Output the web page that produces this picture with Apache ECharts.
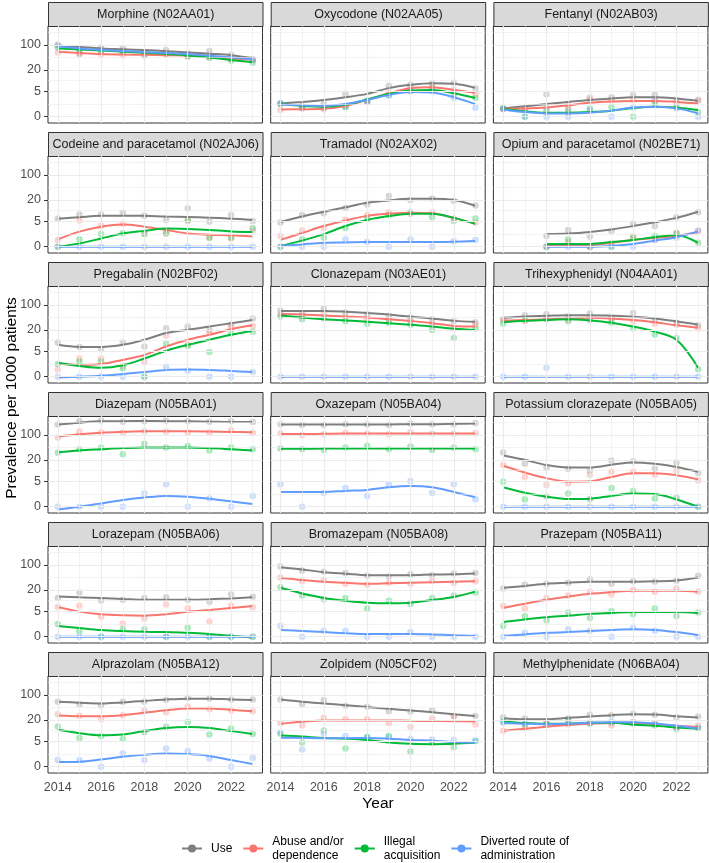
<!DOCTYPE html>
<html lang="en">
<head>
<meta charset="UTF-8">
<title>Prevalence per 1000 patients</title>
<script src="https://cdn.jsdelivr.net/npm/echarts@6/dist/echarts.min.js"></script>
<style>
  html, body { margin: 0; padding: 0; background: #fff; }
  #chart { width: 709px; height: 863px; }
</style>
</head>
<body>
<div id="chart"></div>
<script>
const years = [2014, 2015, 2016, 2017, 2018, 2019, 2020, 2021, 2022, 2023];
const measures = ['Use', 'Abuse and/or dependence', 'Illegal acquisition', 'Diverted route of administration'];
const legendLabels = ['Use', 'Abuse and/or\ndependence', 'Illegal\nacquisition', 'Diverted route of\nadministration'];
const colours = ['#7F7F7F', '#F8766D', '#00BA38', '#619CFF'];
const yBreaks = [0, 5, 20, 100];
const xBreaks = [2014, 2016, 2018, 2020, 2022];
const xMinor = [2015, 2017, 2019, 2021, 2023];
const panelTitles = [
  'Morphine (N02AA01)', 'Oxycodone (N02AA05)', 'Fentanyl (N02AB03)',
  'Codeine and paracetamol (N02AJ06)', 'Tramadol (N02AX02)', 'Opium and paracetamol (N02BE71)',
  'Pregabalin (N02BF02)', 'Clonazepam (N03AE01)', 'Trihexyphenidyl (N04AA01)',
  'Diazepam (N05BA01)', 'Oxazepam (N05BA04)', 'Potassium clorazepate (N05BA05)',
  'Lorazepam (N05BA06)', 'Bromazepam (N05BA08)', 'Prazepam (N05BA11)',
  'Alprazolam (N05BA12)', 'Zolpidem (N05CF02)', 'Methylphenidate (N06BA04)'
];

// smoothed curves and yearly points, rows in the order of `measures`
const morphineFit = [
  [96, 88, 80, 76, 72, 67, 62, 57, 52, 43],
  [65, 60, 56, 54, 53, 52, 51, 47, 42, 40],
  [80, 75, 70, 65, 61, 56, 51, 45, 38, 33],
  [90, 80, 73, 68, 64, 60, 56, 50, 45, 40]
];
const morphinePts = [
  [100, 58, 85, 82, 53, 72, 58, 68, 53, 40],
  [62, 55, 55, 52, 50, 55, 48, 45, 40, 38],
  [85, 68, 66, 64, 58, 58, 48, 44, 37, 32],
  [100, 80, 75, 70, 60, 60, 55, 50, 44, 38]
];
const oxycodoneFit = [
  [1.9, 2.2, 2.6, 3.2, 4.1, 6.1, 7.6, 8.5, 8.2, 6.2],
  [0.97, 1.0, 1.07, 1.5, 2.6, 4.3, 6.1, 6.5, 5.4, 4.4],
  [1.8, 1.5, 1.38, 1.7, 2.7, 4.1, 5.2, 5.4, 4.3, 3.0],
  [1.75, 1.6, 1.5, 1.8, 2.6, 3.8, 4.7, 4.5, 3.2, 1.8]
];
const oxycodonePts = [
  [1.9, 1.5, 1.8, 4.1, 2.3, 7.1, 7.6, 8.5, 8.7, 6.0],
  [0.9, 1.1, 1.0, 1.4, 2.2, 4.5, 6.5, 7.0, 5.5, 4.0],
  [1.8, 1.2, 1.2, 1.3, 2.5, 3.8, 5.0, 6.0, 4.0, 3.0],
  [2.0, 1.2, 1.3, 1.4, 2.4, 3.6, 5.0, 5.0, 3.0, 1.2]
];
const fentanylFit = [
  [1.12, 1.45, 1.8, 2.2, 2.6, 2.9, 3.2, 3.2, 2.9, 2.4],
  [1.07, 1.1, 1.25, 1.6, 2.05, 2.3, 2.4, 2.4, 2.2, 1.9],
  [1.07, 0.7, 0.52, 0.52, 0.6, 0.79, 1.17, 1.38, 1.25, 0.88],
  [0.97, 0.6, 0.43, 0.43, 0.52, 0.8, 1.25, 1.38, 1.12, 0.43]
];
const fentanylPts = [
  [1.1, 1.0, 4.0, 1.1, 2.7, 3.2, 3.8, 3.8, 2.6, 2.6],
  [1.0, 1.0, 1.3, 1.5, 3.2, 2.5, 2.6, 2.4, 2.0, 2.5],
  [1.1, 0, 0.8, 0.6, 1.1, 1.3, 0, 2.0, 1.3, 0.6],
  [1.1, 0, 0, 0, 0.9, 0, 1.2, 2.6, 1.1, 0]
];
const codeineFit = [
  [5.9, 6.5, 7.1, 7.2, 7.1, 6.8, 6.6, 6.3, 5.9, 5.4],
  [0.97, 2.26, 3.35, 3.9, 3.35, 2.6, 1.9, 1.7, 1.6, 1.4],
  [0, 0.43, 1.1, 1.9, 2.4, 2.9, 2.8, 2.6, 2.3, 2.2],
  [0, 0, 0, 0, 0, 0, 0, 0, 0, 0]
];
const codeinePts = [
  [5.9, 7.8, 7.8, 8.7, 7.1, 5.4, 11.6, 4.8, 7.5, 5.0],
  [0.9, 5.2, 3.6, 4.1, 1.9, 1.9, 5.2, 1.2, 1.1, 2.5],
  [0, 1.0, 1.8, 1.95, 1.8, 1.95, 5.2, 1.2, 1.2, 3.0],
  [0, 0, 0, 0, 0, 0, 0, 0, 0, 0]
];
const tramadolFit = [
  [4.7, 6.8, 9.3, 12.5, 16.7, 19.5, 21.6, 21.6, 20, 13.8],
  [0.9, 2.0, 3.5, 5.2, 7.1, 8.2, 8.8, 8.5, 6.2, 4.1],
  [0.1, 0.8, 1.8, 3.5, 5.4, 7.0, 8.2, 8.2, 6.2, 4.1],
  [0.1, 0.3, 0.5, 0.55, 0.6, 0.6, 0.6, 0.6, 0.65, 0.75]
];
const tramadolPts = [
  [4.5, 7.5, 8.5, 12, 15, 26, 20, 22, 19, 14],
  [1.5, 2.5, 3.0, 5.5, 7.5, 9, 8, 9, 6, 4.5],
  [0, 1, 1.2, 3, 6, 7.5, 9, 6.5, 5, 6],
  [0, 0, 0, 1, 0.6, 0, 1, 0, 0.7, 0.9]
];
const opiumFit = [
  [null, null, 1.8, 1.9, 2.2, 2.7, 3.5, 4.6, 6.2, 9.3],
  [null, null, 0.1, 0.15, 0.2, 0.5, 0.9, 1.2, 1.5, 2.2],
  [null, null, 0.35, 0.35, 0.35, 0.6, 0.9, 1.3, 1.6, 0.5],
  [null, null, 0, 0, 0, 0.1, 0.35, 0.8, 1.3, 2.3]
];
const opiumPts = [
  [null, null, 1.5, 2.6, 1.4, 2.4, 4.2, 3.5, 6.5, 9.0],
  [null, null, 0, 0.6, 0, 0.4, 1.4, 0.9, 2.0, 2.4],
  [null, null, 0, 1.0, 0, 0, 1.3, 1.5, 2.0, 0.5],
  [null, null, 0, 0, 0, 0, 0, 0.9, 1.2, 2.5]
];
const pregabalinFit = [
  [7.6, 6.6, 6.6, 7.6, 10.6, 16.4, 20.3, 25, 31, 38],
  [1.9, 1.65, 1.8, 2.6, 3.8, 6.8, 10.6, 14.7, 21, 27],
  [2.05, 1.5, 1.2, 1.6, 2.9, 5.1, 7.6, 10.6, 14.7, 19],
  [-0.1, 0, 0.13, 0.35, 0.6, 0.9, 0.97, 0.9, 0.75, 0.6]
];
const pregabalinPts = [
  [8.9, 6.6, 5.7, 8.9, 6.8, 22.5, 25, 20, 28, 42],
  [0.97, 2.9, 2.9, 1.5, 2.2, 13.8, 7.6, 17, 24, 26],
  [1.8, 2.26, 2.26, 1.1, 0, 8.2, 7, 4.7, 16, 18],
  [0, 0, 0, 0, 0, 1.38, 0.8, 0, 0, 0.6]
];
const clonazepamFit = [
  [68, 68, 68, 65, 60, 54, 47, 42, 36, 34],
  [56, 54, 51, 48, 45, 40, 36, 31, 26, 25],
  [51, 45, 40, 37, 34, 31, 28, 25, 21.6, 20],
  [0, 0, 0, 0, 0, 0, 0, 0, 0, 0]
];
const clonazepamPts = [
  [70, 60, 80, 62, 55, 50, 45, 40, 35, 33],
  [55, 50, 60, 45, 40, 38, 36, 30, 22, 28],
  [48, 40, 42, 35, 30, 32, 28, 20, 12, 22],
  [0, 0, 0, 0, 0, 0, 0, 0, 0, 0]
];
const trihexyFit = [
  [44, 48, 50, 52, 52, 50, 47, 42, 35, 28],
  [36, 38, 40, 42, 44, 42, 38, 33, 27, 23],
  [33, 36, 38, 40, 37, 32, 25, 18, 10.6, 1.2],
  [0, 0, 0, 0, 0, 0, 0, 0, 0, 0]
];
const trihexyPts = [
  [40, 52, 55, 48, 58, 45, 60, 38, 32, 27],
  [38, 35, 42, 40, 45, 40, 35, 30, 28, 22],
  [30, 38, 40, 35, 38, 32, 22, 15, 12, 1],
  [0, 0, 1.2, 0, 0, 0, 0, 0, 0, 0]
];
const diazepamFit = [
  [196, 220, 240, 243, 245, 243, 240, 235, 230, 230],
  [90, 105, 116, 122, 126, 126, 126, 124, 121, 120],
  [33, 37, 40, 43, 45, 45, 45, 43, 40, 37],
  [-0.35, 0, 0.43, 0.88, 1.25, 1.5, 1.38, 1.07, 0.7, 0.35]
];
const diazepamPts = [
  [196, 245, 255, 235, 240, 255, 240, 235, 245, 230],
  [85, 125, 120, 115, 126, 125, 120, 118, 135, 115],
  [32, 40, 45, 29, 57, 45, 49, 37, 45, 40],
  [0, 0, 0, 0, 1.9, 4.0, 0, 1.1, 0, 1.5]
];
const oxazepamFit = [
  [196, 196, 196, 196, 196, 196, 200, 200, 205, 210],
  [106, 106, 108, 110, 110, 110, 110, 110, 110, 110],
  [41, 41, 42, 42, 42, 42, 42, 42, 42, 42],
  [2.2, 2.2, 2.2, 2.4, 2.6, 3.2, 3.5, 3.2, 2.2, 1.3]
];
const oxazepamPts = [
  [200, 190, 190, 200, 195, 190, 210, 200, 200, 215],
  [110, 100, 105, 115, 110, 105, 120, 110, 108, 112],
  [42, 40, 38, 45, 50, 40, 48, 38, 45, 40],
  [4, 0, 2, 3, 1.5, 4, 5, 2, 4, 1]
];
const clorazepateFit = [
  [26.8, 20.3, 14.4, 12.4, 12.4, 14.7, 17.1, 15.6, 12.7, 9.3],
  [13.8, 8.9, 6.1, 4.8, 4.9, 6.6, 8.5, 8.5, 7.4, 5.6],
  [3.2, 2.05, 1.38, 1.02, 1.07, 1.5, 1.9, 1.8, 0.97, 0],
  [0, 0, 0, 0, 0, 0, 0, 0, 0, 0]
];
const clorazepatePts = [
  [32.5, 15.6, 12.4, 11.4, 10.2, 19.5, 18.5, 11.4, 17.1, 8.5],
  [14.4, 6.6, 3.8, 4.2, 7.6, 9.3, 9.3, 7.6, 10, 5.2],
  [4.8, 0.97, 1.4, 1.9, 1.0, 3.0, 2.4, 1.1, 1.2, 0],
  [0, 0, 0, 0, 0, 0, 0, 0, 0, 0]
];
const lorazepamFit = [
  [13.2, 12.5, 11.9, 11.2, 10.6, 10.6, 10.6, 11, 11.6, 12.5],
  [6.6, 4.8, 4.0, 3.7, 3.6, 4.0, 4.8, 5.4, 6.2, 7.0],
  [1.5, 1.17, 0.88, 0.74, 0.65, 0.6, 0.52, 0.35, 0.1, -0.1],
  [0, 0, 0, 0, 0, 0, 0, 0, 0, 0]
];
const lorazepamPts = [
  [12, 17, 10.2, 10.6, 12, 12.5, 10.6, 9.3, 15, 13],
  [6.6, 7.1, 3.35, 1.9, 2.9, 7.8, 6.1, 2.3, 7.1, 6.5],
  [1.8, 0.7, 0, 1.0, 1.0, 0, 1.2, 0, 0, 0],
  [0, 0, 0, 0, 0, 0, 0, 0, 0, 0]
];
const bromazepamFit = [
  [87, 75, 63, 57, 52, 52, 52, 54, 55, 58],
  [44, 38, 34, 32, 30, 31, 32, 33, 34, 35],
  [23, 16, 12, 10, 8.8, 8.4, 8.8, 10.5, 12.8, 18],
  [0.9, 0.75, 0.6, 0.45, 0.35, 0.35, 0.35, 0.3, 0.2, 0.1]
];
const bromazepamPts = [
  [90, 70, 65, 60, 50, 48, 55, 52, 58, 60],
  [45, 35, 38, 30, 28, 32, 30, 36, 32, 35],
  [24, 14, 11, 12, 6, 10, 8, 12, 14, 17],
  [1.5, 0, 0.8, 0.8, 0, 0, 0.6, 0, 0, 0]
];
const prazepamFit = [
  [23, 26, 30, 32, 34, 34, 34, 35, 37, 45],
  [6.2, 8.2, 10.6, 13, 15.6, 17.5, 19, 19, 19, 18],
  [2.2, 2.7, 3.2, 3.6, 4.1, 4.4, 4.7, 4.7, 4.7, 4.4],
  [0.1, 0.3, 0.5, 0.6, 0.75, 0.9, 1.0, 0.9, 0.6, 0.2]
];
const prazepamPts = [
  [22, 28, 30, 32, 40, 30, 35, 34, 36, 50],
  [7, 6, 12, 14, 18, 15, 20, 18, 22, 18],
  [1.5, 3.5, 2.5, 4.5, 3, 5, 4, 6, 3.5, 4.5],
  [0, 0.5, 0, 1, 0.8, 0, 1.2, 0.8, 0, 0]
];
const alprazolamFit = [
  [65, 61, 58, 62, 68, 75, 79, 79, 75, 72],
  [26.8, 25.6, 25.6, 27.3, 31.8, 37.5, 42, 42, 38.5, 35],
  [10.6, 8.5, 7.4, 7.8, 9.8, 11.9, 12.7, 11.9, 9.8, 8.1],
  [0.6, 0.65, 0.97, 1.38, 1.7, 1.9, 1.8, 1.5, 0.88, 0.35]
];
const alprazolamPts = [
  [65, 55, 51, 65, 65, 72, 84, 80, 75, 75],
  [29, 26.5, 21, 27, 37, 33, 47.6, 40, 37, 35],
  [13.2, 6.2, 7, 5.8, 9, 13, 17.7, 7.8, 11.6, 8],
  [0.88, 0.88, 0, 1.9, 0.88, 2.9, 2.4, 1.1, 0, 1.17]
];
const zolpidemFit = [
  [75, 65, 58, 52, 46, 41, 37, 33, 29, 26],
  [15.6, 17.8, 19.5, 19.5, 19.5, 19.5, 19, 18.8, 18.5, 18.3],
  [7.3, 6.8, 6.2, 5.9, 5.4, 4.5, 4.1, 4.0, 4.1, 4.5],
  [6.3, 6.2, 6.1, 6.1, 6.2, 5.9, 5.4, 5.1, 4.7, 4.5]
];
const zolpidemPts = [
  [75, 56, 72, 50, 47, 35, 34, 37, 26, 26],
  [16.4, 14, 23, 21.3, 21.3, 16.4, 12.7, 22, 26, 15],
  [8.2, 4.5, 10.2, 2.9, 6.6, 7.1, 2.26, 4.5, 3.2, 5],
  [8.9, 2.7, 8.2, 7, 6.6, 6.6, 5.8, 5.6, 5.5, 5.2]
];
const methylFit = [
  [22.5, 21, 21, 23, 25, 27.3, 29, 28.5, 25.6, 23.5],
  [10, 11.4, 13, 14.4, 15.6, 16.4, 16.4, 15.3, 13.8, 12.7],
  [18.3, 16.4, 15.6, 15.8, 16.7, 16.7, 14.7, 13.8, 12.4, 11.3],
  [16.4, 15.8, 15.3, 15.8, 16.7, 17.4, 17.2, 16, 13.8, 11.6]
];
const methylPts = [
  [24, 22, 19, 22, 28, 27, 30, 28, 24, 25],
  [10, 12, 18, 15, 17, 14, 18, 16, 12, 14],
  [18, 15, 15, 20, 16, 17, 16, 14, 11, 12],
  [17, 16, 15, 17, 16, 18, 17, 16, 13, 12]
];

const panelFits = [morphineFit, oxycodoneFit, fentanylFit, codeineFit, tramadolFit, opiumFit,
  pregabalinFit, clonazepamFit, trihexyFit, diazepamFit, oxazepamFit, clorazepateFit,
  lorazepamFit, bromazepamFit, prazepamFit, alprazolamFit, zolpidemFit, methylFit];
const panelPts = [morphinePts, oxycodonePts, fentanylPts, codeinePts, tramadolPts, opiumPts,
  pregabalinPts, clonazepamPts, trihexyPts, diazepamPts, oxazepamPts, clorazepatePts,
  lorazepamPts, bromazepamPts, prazepamPts, alprazolamPts, zolpidemPts, methylPts];

// pseudo-log axis (sigma = 1): y' = asinh(y / 2)
const tr = v => (v == null ? null : Math.asinh(v / 2));
const yMajor = yBreaks.map(tr);
const yMinor = yMajor.slice(1).map((b, i) => (b + yMajor[i]) / 2).concat([yMajor[3] + (yMajor[3] - yMajor[2]) / 2]);

const colLeft = [48, 270.7, 493.4];
const panelW = 214.5, panelH = 97;
const rowTop = r => 26 + 130 * r;
const font = '"Liberation Sans", Arial, sans-serif';

const grids = [], xAxes = [], yAxes = [], series = [], graphics = [];

panelTitles.forEach((title, i) => {
  const r = Math.floor(i / 3), c = i % 3;
  const top = rowTop(r), left = colLeft[c];
  grids.push({ left, top, width: panelW, height: panelH, show: true,
    backgroundColor: '#fff', borderColor: '#333', borderWidth: 1 });
  xAxes.push({
    type: 'value', gridIndex: i, min: 2013.55, max: 2023.45,
    axisLine: { show: false }, splitLine: { show: false },
    axisTick: { show: r === 5, length: 4, lineStyle: { color: '#333' }, customValues: xBreaks },
    axisLabel: { show: r === 5, customValues: xBreaks, fontSize: 12.5, color: '#4D4D4D', fontFamily: font, margin: 8,
      formatter: v => String(Math.round(v)) }
  });
  yAxes.push({
    type: 'value', gridIndex: i, min: -0.404, max: 5.823,
    axisLine: { show: false }, splitLine: { show: false },
    axisTick: { show: c === 0, length: 4, lineStyle: { color: '#333' }, customValues: yMajor },
    axisLabel: { show: c === 0, customValues: yMajor, fontSize: 12.5, color: '#4D4D4D', fontFamily: font, margin: 7,
      formatter: v => { const k = yMajor.findIndex(b => Math.abs(b - v) < 1e-6); return k < 0 ? '' : String(yBreaks[k]); } }
  });
  // panel grid lines
  const gl = (w) => ({ color: '#EBEBEB', width: w, type: 'solid' });
  series.push({
    type: 'line', xAxisIndex: i, yAxisIndex: i, data: [], z: 1, silent: true,
    markLine: {
      silent: true, symbol: ['none', 'none'], label: { show: false }, animation: false,
      data: [].concat(
        yMinor.map(v => ({ yAxis: v, lineStyle: gl(0.6) })),
        xMinor.map(v => ({ xAxis: v, lineStyle: gl(0.6) })),
        yMajor.map(v => ({ yAxis: v, lineStyle: gl(1.2) })),
        xBreaks.map(v => ({ xAxis: v, lineStyle: gl(1.2) }))
      )
    }
  });
  measures.forEach((m, k) => {
    series.push({
      name: m + ' points', type: 'scatter', xAxisIndex: i, yAxisIndex: i, z: 2, silent: true,
      symbolSize: 6.5, itemStyle: { color: colours[k], opacity: 0.33 },
      data: years.map((y, j) => [y, tr(panelPts[i][k][j])]).filter(d => d[1] != null)
    });
  });
  measures.forEach((m, k) => {
    series.push({
      name: m, type: 'line', xAxisIndex: i, yAxisIndex: i, z: 3, silent: true,
      smooth: 0.35, symbol: 'circle', showSymbol: false, symbolSize: 6,
      lineStyle: { color: colours[k], width: 2 }, itemStyle: { color: colours[k] },
      data: years.map((y, j) => [y, tr(panelFits[i][k][j])]).filter(d => d[1] != null)
    });
  });
  // facet strip
  graphics.push({
    type: 'group', left: left, top: top - 24,
    children: [
      { type: 'rect', shape: { x: 0, y: 0, width: panelW, height: 24 },
        style: { fill: '#D9D9D9', stroke: '#333', lineWidth: 1 } },
      { type: 'text', x: panelW / 2, y: 12.5,
        style: { text: title, fill: '#1A1A1A', font: '12.5px ' + font, textAlign: 'center', textVerticalAlign: 'middle' } }
    ]
  });
});

graphics.push({ type: 'text', x: 12, y: 398, rotation: Math.PI / 2,
  style: { text: 'Prevalence per 1000 patients', fill: '#000', font: '15.5px ' + font, textAlign: 'center', textVerticalAlign: 'middle' } });
graphics.push({ type: 'text', x: 378, y: 804,
  style: { text: 'Year', fill: '#000', font: '15.5px ' + font, textAlign: 'center', textVerticalAlign: 'middle' } });

const option = {
  animation: false,
  backgroundColor: '#fff',
  grid: grids,
  xAxis: xAxes,
  yAxis: yAxes,
  legend: {
    data: measures, left: 181, top: 835, padding: 0, itemWidth: 20, itemHeight: 10, itemGap: 10,
    selectedMode: false,
    formatter: name => legendLabels[measures.indexOf(name)],
    textStyle: { fontSize: 12, lineHeight: 13.5, color: '#000', fontFamily: font, padding: [0, 0, 0, 4] }
  },
  graphic: graphics,
  series: series
};

const chart = echarts.init(document.getElementById('chart'));
chart.setOption(option);
</script>
</body>
</html>
